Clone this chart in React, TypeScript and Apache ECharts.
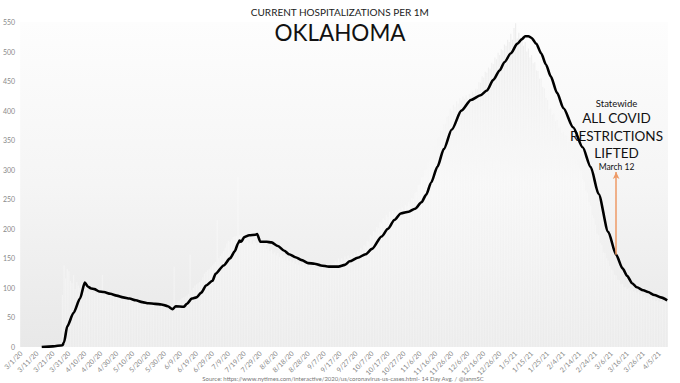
import React, { useEffect, useRef } from "react";
import * as echarts from "echarts";

// ---- data ----
const START_YEAR = 2020;
const START_MONTH = 2; // March (0-based)
const NUM_DAYS = 406; // 3/1/20 .. 4/10/21

const categories: string[] = [];
for (let i = 0; i < NUM_DAYS; i++) {
  const d = new Date(START_YEAR, START_MONTH, 1 + i);
  categories.push(`${d.getMonth() + 1}/${d.getDate()}/${String(d.getFullYear()).slice(2)}`);
}

// daily current hospitalizations per 1M (faint bars), one row per 10 days
const dailyValues: (number | null)[] = [
  null, null, null, null, null, null, null, null, null, null,
  null, null, null, 0, 0, 1, 1, 2, 2, 3,
  3, 4, 4, 5, 5, 6, 88, 138, 116, 132,
  128, 112, 108, 122, 98, 110, 104, 100, 108, 96,
  98, 102, 94, 96, 95, 92, 95, 90, 97, 93,
  92, 122, 88, 91, 94, 89, 86, 90, 87, 85,
  88, 84, 86, 83, 85, 82, 84, 80, 83, 81,
  79, 82, 78, 77, 80, 76, 75, 78, 74, 73,
  75, 72, 74, 71, 73, 70, 72, 71, 69, 70,
  68, 66, 64, 62, 65, 70, 136, 72, 75, 78,
  80, 83, 84, 85, 87, 90, 156, 96, 100, 104,
  106, 108, 110, 112, 118, 124, 127, 130, 132, 135,
  138, 141, 144, 215, 150, 154, 158, 162, 168, 175,
  180, 178, 182, 186, 187, 188, 288, 189, 190, 190,
  192, 186, 180, 176, 182, 174, 179, 176, 172, 178,
  174, 178, 170, 174, 166, 170, 162, 165, 158, 160,
  155, 159, 152, 156, 150, 154, 147, 151, 146, 149,
  143, 147, 141, 145, 139, 143, 138, 142, 137, 141,
  136, 140, 135, 139, 134, 138, 133, 137, 134, 138,
  134, 138, 136, 140, 137, 141, 142, 146, 144, 150,
  144, 150, 146, 153, 149, 155, 150, 157, 154, 159,
  156, 163, 160, 167, 164, 172, 170, 180, 178, 190,
  188, 196, 194, 203, 201, 211, 209, 218, 215, 224,
  220, 229, 224, 230, 226, 232, 228, 234, 230, 236,
  232, 240, 238, 245, 243, 252, 251, 261, 262, 274,
  275, 287, 288, 300, 301, 312, 314, 325, 328, 340,
  340, 353, 355, 366, 365, 377, 378, 390, 391, 403,
  400, 410, 406, 416, 412, 421, 417, 424, 420, 426,
  421, 428, 424, 432, 428, 437, 436, 448, 447, 458,
  456, 466, 464, 473, 471, 481, 479, 490, 487, 498,
  494, 504, 502, 512, 510, 520, 516, 530, 520, 540,
  548, 522, 532, 518, 524, 510, 516, 500, 505, 490,
  494, 480, 482, 468, 467, 454, 455, 440, 438, 422,
  418, 402, 404, 393, 395, 382, 384, 371, 373, 362,
  364, 358, 358, 346, 347, 335, 334, 322, 321, 308,
  302, 298, 284, 280, 265, 261, 245, 239, 223, 218,
  207, 192, 189, 176, 173, 160, 159, 150, 146, 137,
  131, 130, 122, 121, 114, 113, 106, 107, 101, 102,
  98, 100, 96, 98, 94, 96, 92, 94, 89, 91,
  86, 88, 84, 86, 82, 84, 80, 82, 78, 80,
  77, 79, 76, 78, 75, 77,
];

// 14-day average, read at day offsets from 3/1/20
const avgDayOffsets: number[] = [
  13, 20, 26, 27, 29, 33, 37, 40, 42, 44, 46, 49, 52, 56, 60, 64, 68, 72, 76, 80,
  84, 88, 92, 95, 97, 102, 104, 107, 110, 113, 116, 120, 122, 127, 131, 134, 136, 137, 138, 140,
  143, 147, 148, 150, 154, 157, 161, 165, 168, 172, 176, 180, 184, 188, 193, 199, 203, 206, 211, 216,
  220, 226, 230, 234, 238, 243, 247, 251, 254, 257, 261, 265, 270, 276, 282, 288, 292, 296, 300, 303,
  307, 311, 314, 316, 318, 320, 323, 326, 329, 332, 336, 340, 346, 352, 357, 362, 368, 373, 377, 380,
  383, 386, 390, 393, 397, 401, 405,
];
const avgValues: number[] = [
  0, 1, 3, 8, 35, 58, 82, 109, 102, 99, 98, 94, 93, 90, 87, 84, 82, 79, 76, 74,
  73, 72, 69, 64, 69, 68, 73, 82, 84, 92, 104, 112, 124, 138, 150, 162, 175, 180, 178, 186,
  189, 190, 191, 178, 178, 177, 171, 163, 157, 152, 147, 142, 141, 138, 136, 136, 139, 145, 151, 157,
  166, 187, 200, 215, 226, 229, 234, 245, 258, 278, 305, 335, 368, 400, 418, 426, 434, 452, 468, 482,
  497, 513, 521, 526, 526, 523, 513, 497, 478, 458, 430, 404, 372, 338, 305, 259, 195, 156, 133, 120,
  108, 101, 96, 93, 88, 84, 79,
];

const Y_TICKS_MAX = 550;
const Y_INTERVAL = 50;
const ANNOTATION_DATE = "3/9/21";
const ANNOTATION_FROM = 156;
const ANNOTATION_TO = 296;

const titleText = "CURRENT HOSPITALIZATIONS PER 1M";
const stateText = "OKLAHOMA";
const sourceText =
  "Source: https://www.nytimes.com/interactive/2020/us/coronavirus-us-cases.html- 14 Day Avg. / @ianmSC";
const noteLines = ["Statewide", "ALL COVID", "RESTRICTIONS", "LIFTED", "March 12"];

export default function App() {
  const ref = useRef<HTMLDivElement>(null);
  useEffect(() => {
    if (!ref.current) return;
    const chart = echarts.init(ref.current, undefined, { renderer: "svg" });
    const font = "Lato, 'Noto Sans', sans-serif";
    const gridTop = 22;
    const gridBottom = 36;
    const lineData = avgDayOffsets.map((d, i) => [categories[d], avgValues[i]]);
    chart.setOption({
      animation: false,
      backgroundColor: "#ffffff",
      textStyle: { fontFamily: font },
      grid: {
        left: 17,
        right: 12,
        top: gridTop,
        bottom: gridBottom,
        show: true,
        borderWidth: 0,
        backgroundColor: {
          type: "linear",
          x: 0,
          y: 0,
          x2: 0,
          y2: 1,
          colorStops: [
            { offset: 0, color: "#fdfdfd" },
            { offset: 0.5, color: "#f5f5f5" },
            { offset: 1, color: "#e8e8e8" },
          ],
        },
      },
      xAxis: {
        type: "category",
        data: categories,
        boundaryGap: true,
        axisLine: { show: false },
        axisTick: { show: false },
        axisLabel: {
          interval: 9,
          rotate: 45,
          fontSize: 7,
          color: "#8a8a8a",
          margin: 5,
          fontFamily: font,
        },
        splitLine: { show: false },
      },
      yAxis: {
        type: "value",
        min: 0,
        max: Y_TICKS_MAX,
        interval: Y_INTERVAL,
        axisLine: { show: false },
        axisTick: { show: false },
        splitLine: { show: false },
        axisLabel: { fontSize: 7, color: "#8a8a8a", margin: 5, fontFamily: font },
      },
      series: [
        {
          type: "bar",
          data: dailyValues,
          barCategoryGap: "30%",
          silent: true,
          itemStyle: {
            color: {
              type: "linear",
              x: 0,
              y: gridTop,
              x2: 0,
              y2: 383 - gridBottom,
              global: true,
              colorStops: [
                { offset: 0, color: "#ececec" },
                { offset: 0.5, color: "#f9f9f9" },
                { offset: 1, color: "#f0f0f0" },
              ],
            },
          },
        },
        {
          type: "line",
          data: lineData,
          showSymbol: false,
          symbol: "none",
          smooth: 0.25,
          smoothMonotone: "x",
          lineStyle: { color: "#000000", width: 2.6 },
          silent: true,
          markLine: {
            silent: true,
            symbol: ["none", "arrow"],
            symbolSize: [5, 7],
            label: { show: false },
            lineStyle: { color: "#ee9a66", width: 1.5, type: "solid" },
            data: [
              [
                { coord: [ANNOTATION_DATE, ANNOTATION_FROM] },
                { coord: [ANNOTATION_DATE, ANNOTATION_TO] },
              ],
            ],
          },
        },
      ],
      graphic: [
        {
          type: "text",
          left: "center",
          top: 7,
          style: { text: titleText, fontSize: 10, fill: "#222", fontFamily: font },
        },
        {
          type: "text",
          left: "center",
          top: 21,
          style: { text: stateText, fontSize: 22.5, fill: "#111", fontFamily: font },
        },
        {
          type: "text",
          x: 616.5,
          y: 103,
          style: { text: noteLines[0], fontSize: 9.5, fill: "#111", align: "center", verticalAlign: "middle", fontFamily: font },
        },
        {
          type: "text",
          x: 616.5,
          y: 118,
          style: { text: noteLines[1], fontSize: 13.5, fill: "#111", align: "center", verticalAlign: "middle", fontFamily: font },
        },
        {
          type: "text",
          x: 616.5,
          y: 136,
          style: { text: noteLines[2], fontSize: 13.5, fill: "#111", align: "center", verticalAlign: "middle", fontFamily: font },
        },
        {
          type: "text",
          x: 616.5,
          y: 153,
          style: { text: noteLines[3], fontSize: 13.5, fill: "#111", align: "center", verticalAlign: "middle", fontFamily: font },
        },
        {
          type: "text",
          x: 616.5,
          y: 167,
          style: { text: noteLines[4], fontSize: 8.5, fill: "#111", align: "center", verticalAlign: "middle", fontFamily: font },
        },
        {
          type: "text",
          x: 343,
          y: 378,
          style: { text: sourceText, fontSize: 6, fill: "#777", align: "center", verticalAlign: "middle", fontFamily: font },
        },
      ],
    });
    return () => chart.dispose();
  }, []);
  return (
    <div
      ref={ref}
      style={{ position: "fixed", left: 0, top: 0, width: 680, height: 383, background: "#fff" }}
    />
  );
}
